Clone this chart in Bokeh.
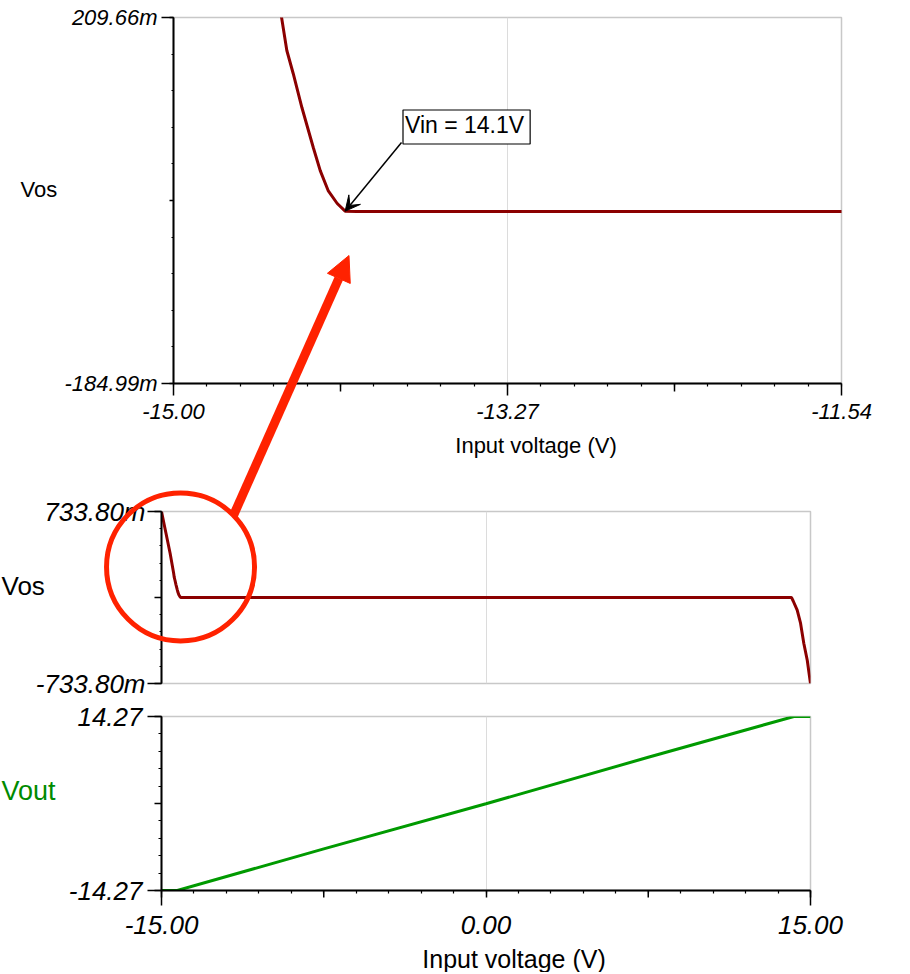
import numpy as np
from bokeh.plotting import figure
from bokeh.models import (Range1d, FixedTicker, CustomJSTickFormatter, Label,
                          Arrow, NormalHead, VeeHead)
from bokeh.embed import file_html
from bokeh.resources import INLINE

# ---------------- data ----------------
vin = [-15.00, -14.80, -14.60, -14.44, -14.413, -14.38, -14.335, -14.276,
       -14.24, -14.199, -14.152, -14.111, -14.05, 0.00, 14.12, 14.20,
       14.385, 14.54, 14.69, 14.85, 15.00]
vos = [0.7338, 0.555, 0.376, 0.2093, 0.1741, 0.1493, 0.1126, 0.0695,
       0.0446, 0.0231, 0.0091, 0.0008, 0.0005, 0.0005, 0.0005, -0.030,
       -0.108, -0.219, -0.390, -0.535, -0.7338]
vout_vin = [-15.00, -14.27, -7.50, 0.00, 7.50, 14.23, 15.00]
vout = [-14.27, -14.27, -7.45, -0.05, 7.58, 14.27, 14.27]

zoom_x_ticks = [-15.00, -13.27, -11.54]
zoom_y_ticks = [-0.18499, 0.20966]
full_x_ticks = [-15.00, 0.00, 15.00]
vos_y_ticks = [-0.7338, 0.7338]
vout_y_ticks = [-14.27, 14.27]
callout_text = "Vin = 14.1V"
x_title = "Input voltage (V)"

# call-out geometry (annotation, in data coordinates of the plots)
callout_label_top = (-13.482, 0.0916)   # centre of the "Vin = 14.1V" box
callout_from_top = (-13.819, 0.0749)    # black arrow tail (box corner)
red_tip_top = (-14.091, -0.047)         # red arrow tip, zoomed plot
red_circle_mid = (-14.12, 0.26)         # circle centre, full plot
red_circle_r = 74                       # px
red_tail_angle = -44.3                  # deg, where the arrow leaves the circle

# ---------------- layout (page pixels) ----------------
W = 905
TOP_H, TOP_L, TOP_R, TOP_T, TOP_B = 465, 173, W - 173 - 668, 17, 82
MID_H, MID_L, MID_R, MID_T, MID_B = 235, 161, W - 161 - 649, 46, 17
BOT_H, BOT_L, BOT_R, BOT_T, BOT_B = 272, 161, W - 161 - 649, 16, 82
TOP_Y0 = 0
MID_Y0 = TOP_Y0 + TOP_H
BOT_Y0 = MID_Y0 + MID_H
PAGE_H = BOT_Y0 + BOT_H

DARKRED = "#8b0000"
GREEN = "#009a00"
HILITE = "#ff2200"
GRIDC = "#dcdcdc"
FONT = "Liberation Sans"


def to_page(fig_y0, left, top, fw, fh, xr, yr):
    """data -> page pixel for one figure (used only for the overlay)"""
    def f(x, y):
        px = left + (x - xr[0]) / (xr[1] - xr[0]) * fw
        py = fig_y0 + top + (yr[1] - y) / (yr[1] - yr[0]) * fh
        return px, py
    return f


def style_axis(ax, size, tick_out, minor_out, standoff):
    ax.axis_line_color = "black"
    ax.axis_line_width = 2
    ax.major_tick_line_color = "black"
    ax.major_tick_line_width = 1.5
    ax.major_tick_in = 0
    ax.major_tick_out = tick_out
    ax.minor_tick_line_color = "black"
    ax.minor_tick_line_width = 1.2
    ax.minor_tick_in = 0
    ax.minor_tick_out = minor_out
    ax.major_label_text_font = FONT
    ax.major_label_text_font_style = "italic"
    ax.major_label_text_font_size = f"{size}px"
    ax.major_label_text_color = "black"
    ax.major_label_standoff = standoff


def base_fig(h, l, r, t, b, xr, yr, y0, x_axis=True):
    p = figure(width=W, height=h, x_range=Range1d(*xr), y_range=Range1d(*yr),
               output_backend="svg", toolbar_location=None,
               x_axis_location="below" if x_axis else None,
               min_border_left=l, min_border_right=r,
               min_border_top=t, min_border_bottom=b,
               styles={"position": "absolute", "left": "0px", "top": f"{y0}px"})
    p.background_fill_color = "white"
    p.border_fill_color = "white"
    p.outline_line_color = "#c8c8c8"
    p.outline_line_width = 1.5
    p.ygrid.visible = False
    p.xgrid.grid_line_color = GRIDC
    p.xgrid.grid_line_width = 1
    return p


def milli_fmt(mid):
    return CustomJSTickFormatter(args=dict(mid=mid), code="""
        if (Math.abs(tick - mid) < 1e-9) { return ""; }
        return (tick * 1000).toFixed(2) + "m";
    """)


def plain_fmt(mid):
    return CustomJSTickFormatter(args=dict(mid=mid), code="""
        if (Math.abs(tick - mid) < 1e-9) { return ""; }
        return tick.toFixed(2);
    """)


x_fmt = CustomJSTickFormatter(code="return tick.toFixed(2);")

# ================= top (zoomed Vos) =================
zx = (zoom_x_ticks[0], zoom_x_ticks[-1])
zy = (zoom_y_ticks[0], zoom_y_ticks[-1])
top = base_fig(TOP_H, TOP_L, TOP_R, TOP_T, TOP_B, zx, zy, TOP_Y0)
top_page = to_page(TOP_Y0, TOP_L, TOP_T, W - TOP_L - TOP_R, TOP_H - TOP_T - TOP_B, zx, zy)
zy_mid = (zy[0] + zy[1]) / 2
top.xaxis.ticker = FixedTicker(ticks=zoom_x_ticks,
                               minor_ticks=list(np.linspace(zx[0], zx[1], 21)))
top.xaxis.formatter = x_fmt
top.yaxis.ticker = FixedTicker(ticks=[zy[0], zy_mid, zy[1]],
                               minor_ticks=list(np.linspace(zy[0], zy[1], 11)))
top.yaxis.formatter = milli_fmt(zy_mid)
top.xgrid.ticker = FixedTicker(ticks=[zoom_x_ticks[1]])
style_axis(top.xaxis[0], 22, 12, 3, 8)
style_axis(top.yaxis[0], 22, 4, 2, 12)
top.line(vin, vos, line_color=DARKRED, line_width=3)

top.add_layout(Label(x=callout_label_top[0], y=callout_label_top[1], text=callout_text,
                     text_align="center", text_baseline="middle", text_font=FONT,
                     text_font_size="23px", text_color="black",
                     background_fill_color="white", border_line_color="black",
                     border_line_width=1.2, padding=(2, 6, 2, 6)))
top.add_layout(Arrow(x_start=callout_from_top[0], y_start=callout_from_top[1],
                     x_end=vin[11], y_end=vos[11], line_color="black", line_width=1.5,
                     end=VeeHead(size=15, fill_color="black", line_color="black")))

# ================= middle (full Vos) =================
fx = (full_x_ticks[0], full_x_ticks[-1])
vy = (vos_y_ticks[0], vos_y_ticks[-1])
mid = base_fig(MID_H, MID_L, MID_R, MID_T, MID_B, fx, vy, MID_Y0, x_axis=False)
mid_page = to_page(MID_Y0, MID_L, MID_T, W - MID_L - MID_R, MID_H - MID_T - MID_B, fx, vy)
mid.yaxis.ticker = FixedTicker(ticks=[vy[0], 0.0, vy[1]],
                               minor_ticks=list(np.linspace(vy[0], vy[1], 11)))
mid.yaxis.formatter = milli_fmt(0.0)
mid.xgrid.ticker = FixedTicker(ticks=[full_x_ticks[1]])
style_axis(mid.yaxis[0], 26, 7, 2, 9)
mid.line(vin, vos, line_color=DARKRED, line_width=3)

# ================= bottom (Vout) =================
oy = (vout_y_ticks[0], vout_y_ticks[-1])
bot = base_fig(BOT_H, BOT_L, BOT_R, BOT_T, BOT_B, fx, oy, BOT_Y0)
bot_page = to_page(BOT_Y0, BOT_L, BOT_T, W - BOT_L - BOT_R, BOT_H - BOT_T - BOT_B, fx, oy)
bot.xaxis.ticker = FixedTicker(ticks=full_x_ticks,
                               minor_ticks=list(np.linspace(fx[0], fx[1], 21)))
bot.xaxis.formatter = x_fmt
bot.yaxis.ticker = FixedTicker(ticks=[oy[0], 0.0, oy[1]],
                               minor_ticks=list(np.linspace(oy[0], oy[1], 11)))
bot.yaxis.formatter = plain_fmt(0.0)
bot.xgrid.ticker = FixedTicker(ticks=[full_x_ticks[1]])
style_axis(bot.xaxis[0], 26, 7, 3, 18)
style_axis(bot.yaxis[0], 26, 7, 3, 12)
bot.line(vout_vin, vout, line_color=GREEN, line_width=3)

# ========== transparent overlay: axis titles, long end ticks, red call-out ==========
ov = figure(width=W, height=PAGE_H, x_range=Range1d(0, W), y_range=Range1d(PAGE_H, 0),
            output_backend="svg", toolbar_location=None,
            x_axis_location=None, y_axis_location=None, min_border=0,
            styles={"position": "absolute", "left": "0px", "top": "0px",
                    "z-index": "10", "pointer-events": "none"})
ov.background_fill_alpha = 0
ov.border_fill_alpha = 0
ov.outline_line_color = None
ov.grid.visible = False


def title_label(x, y, text, size, align="left", color="black"):
    ov.add_layout(Label(x=x, y=y, text=text, text_align=align, text_baseline="middle",
                        text_font=FONT, text_font_size=f"{size}px", text_color=color))


title_label(20, 189, "Vos", 22)
title_label(535.5, 445, x_title, 22, align="center")
title_label(1, 585, "Vos", 26)
title_label(1, 790, "Vout", 27, color="#008a00")
title_label(513.5, 958, x_title, 25, align="center")

# longer end ticks / medium ticks (as in the original plot style)
sx0, sy0, sx1, sy1 = [], [], [], []


def left_tick(page_fn, x, y, length):
    px, py = page_fn(x, y)
    sx0.append(px - length); sy0.append(py); sx1.append(px); sy1.append(py)


def down_tick(page_fn, x, y, length):
    px, py = page_fn(x, y)
    sx0.append(px); sy0.append(py); sx1.append(px); sy1.append(py + length)


for v in zoom_y_ticks:
    left_tick(top_page, zx[0], v, 12)
for a_, b_ in zip(zoom_x_ticks[:-1], zoom_x_ticks[1:]):
    down_tick(top_page, (a_ + b_) / 2, zy[0], 8)
for v in vos_y_ticks:
    left_tick(mid_page, fx[0], v, 14)
for v in vout_y_ticks:
    left_tick(bot_page, fx[0], v, 14)
for v in (full_x_ticks[0], full_x_ticks[-1]):
    down_tick(bot_page, v, oy[0], 15)
for a_, b_ in zip(full_x_ticks[:-1], full_x_ticks[1:]):
    down_tick(bot_page, (a_ + b_) / 2, oy[0], 7)
ov.segment(x0=sx0, y0=sy0, x1=sx1, y1=sy1, line_color="black", line_width=1.5)

cx, cy = mid_page(*red_circle_mid)
ov.scatter(x=[cx], y=[cy], marker="circle", size=2 * red_circle_r,
           fill_color=None, line_color=HILITE, line_width=5)
a = np.deg2rad(red_tail_angle)
tx, ty = cx + red_circle_r * np.cos(a), cy + red_circle_r * np.sin(a)
hx, hy = top_page(*red_tip_top)
ov.add_layout(Arrow(x_start=tx, y_start=ty, x_end=hx, y_end=hy,
                    line_color=HILITE, line_width=9, line_cap="butt",
                    end=NormalHead(size=25, fill_color=HILITE, line_color=HILITE,
                                   line_width=1)))

open("out.html", "w").write(file_html([top, mid, bot, ov], INLINE))
